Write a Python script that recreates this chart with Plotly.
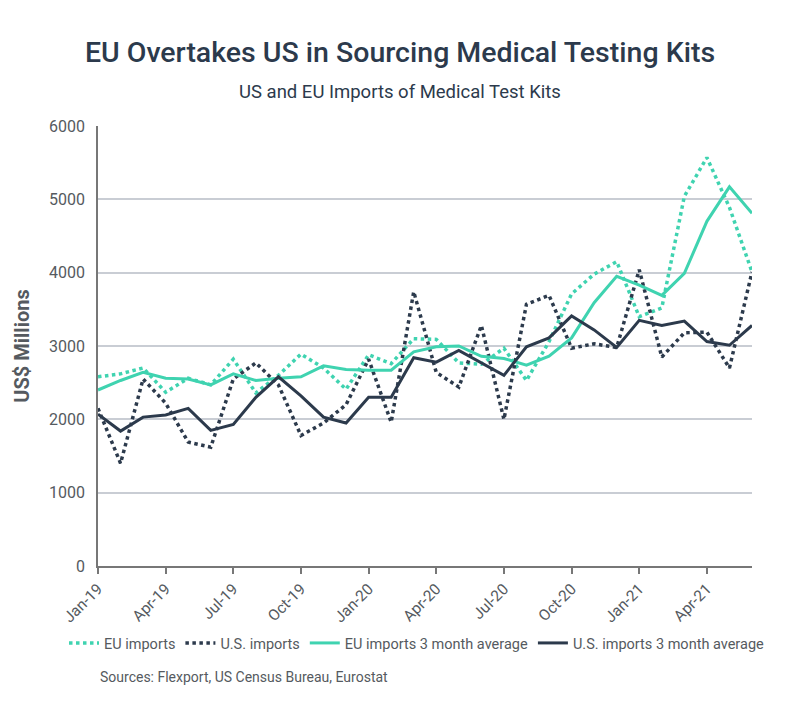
import plotly.graph_objects as go

months = ["Jan-19", "Feb-19", "Mar-19", "Apr-19", "May-19", "Jun-19", "Jul-19", "Aug-19", "Sep-19", "Oct-19",
          "Nov-19", "Dec-19", "Jan-20", "Feb-20", "Mar-20", "Apr-20", "May-20", "Jun-20", "Jul-20", "Aug-20",
          "Sep-20", "Oct-20", "Nov-20", "Dec-20", "Jan-21", "Feb-21", "Mar-21", "Apr-21", "May-21", "Jun-21"]

eu_imports = [2580, 2620, 2700, 2370, 2560, 2470, 2820, 2360, 2600, 2890,
              2700, 2410, 2880, 2760, 3100, 3090, 2770, 2750, 2970, 2530,
              3060, 3710, 3980, 4150, 3400, 3520, 5040, 5570, 4890, 4010]
us_imports = [2150, 1400, 2550, 2220, 1690, 1620, 2550, 2770, 2470, 1780,
              1950, 2200, 2820, 1960, 3740, 2640, 2440, 3280, 2000, 3570,
              3690, 2970, 3030, 2980, 4040, 2850, 3180, 3190, 2700, 4010]
eu_avg = [2400, 2530, 2640, 2560, 2550, 2470, 2620, 2530, 2560, 2580,
          2730, 2680, 2670, 2670, 2920, 2990, 3000, 2860, 2830, 2740,
          2860, 3110, 3590, 3950, 3830, 3690, 3990, 4700, 5170, 4810]
us_avg = [2070, 1840, 2030, 2060, 2150, 1850, 1930, 2300, 2580, 2320,
          2030, 1950, 2300, 2300, 2840, 2780, 2940, 2770, 2600, 2990,
          3110, 3410, 3220, 2980, 3350, 3280, 3340, 3060, 3010, 3280]

tick_labels = months[::3]
y_ticks = [0, 1000, 2000, 3000, 4000, 5000, 6000]

TEAL = "#3fd3b0"
NAVY = "#2c3a4c"
GRAY = "#555a60"
FONT = "Roboto"

fig = go.Figure()
fig.add_trace(go.Scatter(x=months, y=eu_imports, name="EU imports", mode="lines",
                         line=dict(color=TEAL, width=3.5, dash="dot")))
fig.add_trace(go.Scatter(x=months, y=us_imports, name="U.S. imports", mode="lines",
                         line=dict(color=NAVY, width=3.5, dash="dot")))
fig.add_trace(go.Scatter(x=months, y=eu_avg, name="EU imports 3 month average", mode="lines",
                         line=dict(color=TEAL, width=3)))
fig.add_trace(go.Scatter(x=months, y=us_avg, name="U.S. imports 3 month average", mode="lines",
                         line=dict(color=NAVY, width=3)))

fig.update_layout(
    width=800, height=705,
    margin=dict(l=98, r=48, t=126, b=139),
    paper_bgcolor="white", plot_bgcolor="white",
    font=dict(family=FONT, color=GRAY, size=14),
    title=dict(text="EU Overtakes US in Sourcing Medical Testing Kits",
               x=0.5, xanchor="center", y=1 - 52 / 705, yanchor="middle",
               font=dict(family=FONT, size=28.5, color=NAVY, weight=500)),
    showlegend=True,
    legend=dict(orientation="h", x=(64 - 98) / 654, xanchor="left", y=(566 - 643) / 440, yanchor="middle",
                itemwidth=30, tracegroupgap=0,
                font=dict(size=14.5, color=GRAY), bgcolor="rgba(0,0,0,0)"),
    annotations=[
        dict(text="US and EU Imports of Medical Test Kits", xref="paper", yref="paper",
             x=(400 - 98) / 654, xanchor="center", y=1 + (126 - 92) / 440, yanchor="middle",
             showarrow=False, font=dict(family=FONT, size=18.5, color=NAVY)),
        dict(text="Sources: Flexport, US Census Bureau, Eurostat", xref="paper", yref="paper",
             x=0, xanchor="left", y=(566 - 677) / 440, yanchor="middle",
             showarrow=False, font=dict(family=FONT, size=14, color=GRAY)),
    ],
)

fig.update_xaxes(
    type="category", categoryorder="array", categoryarray=months,
    range=[0, len(months) - 1],
    tickmode="array", tickvals=tick_labels, ticktext=tick_labels,
    tickangle=-45, ticks="outside", ticklen=6, tickcolor="#777", tickwidth=1.5,
    showline=True, linecolor="#777", linewidth=1.5,
    showgrid=False, tickfont=dict(size=15.5, color=GRAY),
)
fig.update_yaxes(
    range=[0, 6000], tickvals=y_ticks,
    showgrid=True, gridcolor="#c9cdd4", gridwidth=1.5,
    showline=True, linecolor="#777", linewidth=1.5,
    zeroline=False, ticks="", ticklabelstandoff=8, tickfont=dict(size=16, color=GRAY),
    title=dict(text="<b>US$ Millions</b>", font=dict(size=20, color=GRAY), standoff=14),
)

fig.write_html("out.html")
